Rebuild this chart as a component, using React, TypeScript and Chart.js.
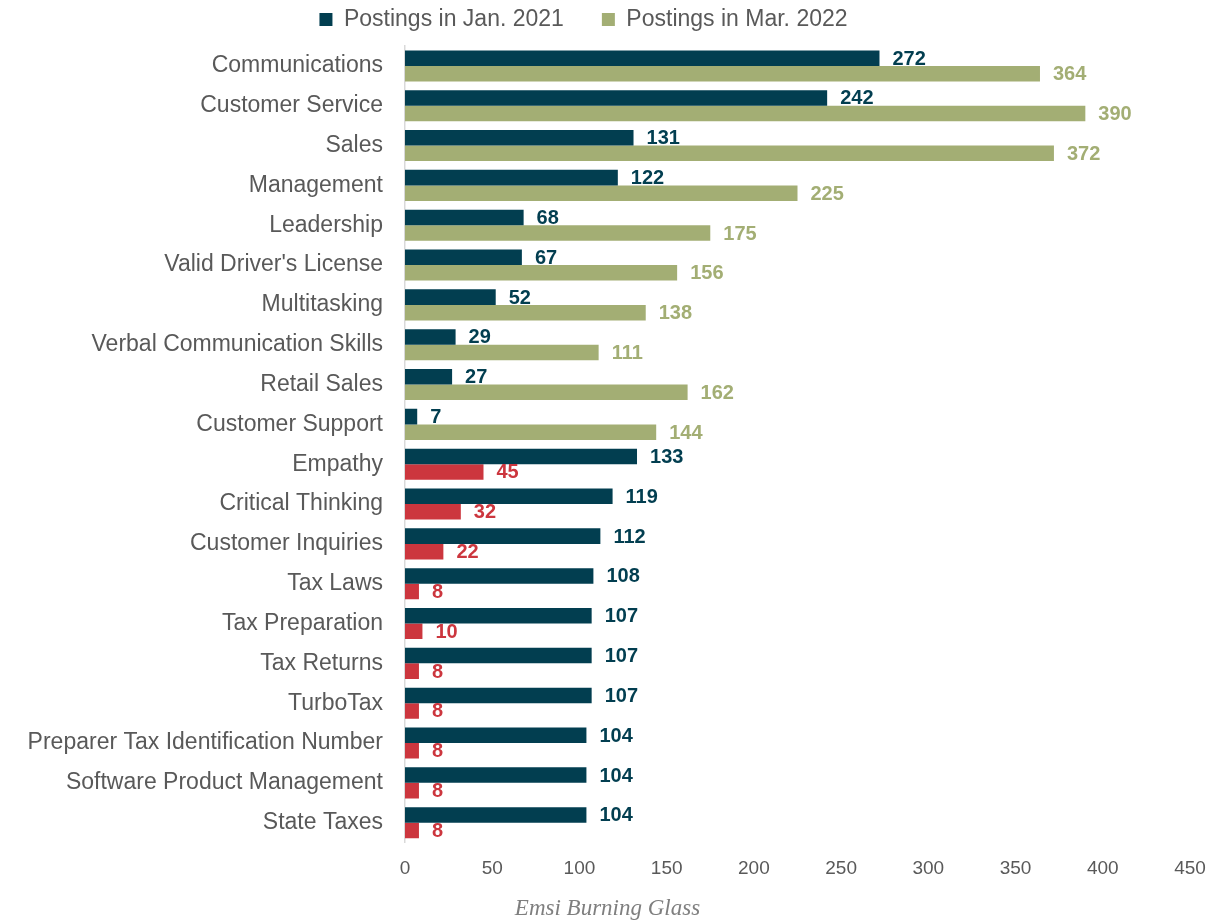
import React, { useEffect, useRef } from "react";
import { Chart, registerables } from "chart.js";

Chart.register(...registerables);

const categories = [
  "Communications",
  "Customer Service",
  "Sales",
  "Management",
  "Leadership",
  "Valid Driver's License",
  "Multitasking",
  "Verbal Communication Skills",
  "Retail Sales",
  "Customer Support",
  "Empathy",
  "Critical Thinking",
  "Customer Inquiries",
  "Tax Laws",
  "Tax Preparation",
  "Tax Returns",
  "TurboTax",
  "Preparer Tax Identification Number",
  "Software Product Management",
  "State Taxes",
];

const postingsJan2021 = [272, 242, 131, 122, 68, 67, 52, 29, 27, 7, 133, 119, 112, 108, 107, 107, 107, 104, 104, 104];
const postingsMar2022 = [364, 390, 372, 225, 175, 156, 138, 111, 162, 144, 45, 32, 22, 8, 10, 8, 8, 8, 8, 8];

const seriesNames = ["Postings in Jan. 2021", "Postings in Mar. 2022"];
const xTicks = [0, 50, 100, 150, 200, 250, 300, 350, 400, 450];
const sourceText = "Emsi Burning Glass";

const DARK = "#023E50";
const GREEN = "#A3AE74";
const RED = "#CC363E";
const TEXT = "#595959";
const FONT = "'Liberation Sans', Arial, sans-serif";

// Mar. 2022 bars are red where postings declined
const marColors = postingsMar2022.map((v, i) => (v < postingsJan2021[i] ? RED : GREEN));

const valueLabels = {
  id: "valueLabels",
  afterDatasetsDraw(chart: any) {
    const ctx = chart.ctx;
    ctx.save();
    ctx.font = "bold 20px " + FONT;
    ctx.textAlign = "left";
    ctx.textBaseline = "middle";
    chart.data.datasets.forEach((ds: any, di: number) => {
      const meta = chart.getDatasetMeta(di);
      meta.data.forEach((el: any, i: number) => {
        const v = ds.data[i];
        ctx.fillStyle = di === 0 ? DARK : marColors[i];
        ctx.fillText(String(v), el.x + 13, el.y + 1);
      });
    });
    ctx.restore();
  },
};

const legendPlace = {
  id: "legendPlace",
  beforeLayout(chart: any) {
    const lg = chart.legend;
    if (lg && !lg.__patched) {
      const orig = lg.fit.bind(lg);
      lg.fit = function () {
        orig();
        this.height = 46;
      };
      lg.__patched = true;
    }
  },
  afterLayout(chart: any) {
    const lg = chart.legend;
    if (lg) {
      lg.top -= 30;
      lg.left -= 24;
      lg.right -= 24;
    }
  },
};

export default function App() {
  const ref = useRef<HTMLCanvasElement | null>(null);

  useEffect(() => {
    document.body.style.margin = "0";
    if (!ref.current) return;
    const chart = new Chart(ref.current, {
      type: "bar",
      data: {
        labels: categories,
        datasets: [
          {
            label: seriesNames[0],
            data: postingsJan2021,
            backgroundColor: DARK,
            barPercentage: 1,
            categoryPercentage: 0.78,
          },
          {
            label: seriesNames[1],
            data: postingsMar2022,
            backgroundColor: marColors,
            barPercentage: 1,
            categoryPercentage: 0.78,
          },
        ],
      },
      options: {
        indexAxis: "y",
        animation: false,
        responsive: false,
        maintainAspectRatio: false,
        layout: { padding: { left: 0, right: 0, top: 0, bottom: 0 } },
        scales: {
          x: {
            min: 0,
            max: 450,
            afterBuildTicks(scale: any) {
              scale.ticks = xTicks.map((v) => ({ value: v }));
            },
            afterFit(scale: any) {
              scale.paddingRight = 25;
            },
            grid: { display: false, drawTicks: false },
            border: { display: false },
            ticks: {
              color: TEXT,
              padding: 15,
              font: { family: FONT, size: 19 },
            },
          },
          y: {
            grid: { display: false, drawTicks: false },
            border: { display: true, color: "#D9D9D9", width: 1.5 },
            afterFit(scale: any) {
              scale.width = 405;
            },
            ticks: {
              color: TEXT,
              padding: 22,
              autoSkip: false,
              font: { family: FONT, size: 23 },
            },
          },
        },
        plugins: {
          legend: {
            position: "top",
            labels: {
              color: TEXT,
              boxWidth: 13,
              boxHeight: 13,
              padding: 38,
              font: { family: FONT, size: 23 },
              generateLabels() {
                return [
                  { text: seriesNames[0], fillStyle: DARK, strokeStyle: DARK, lineWidth: 0, datasetIndex: 0, fontColor: TEXT },
                  { text: seriesNames[1], fillStyle: GREEN, strokeStyle: GREEN, lineWidth: 0, datasetIndex: 1, fontColor: TEXT },
                ] as any;
              },
            },
          },
          title: {
            display: true,
            position: "bottom",
            text: sourceText,
            color: "#7F7F7F",
            padding: { top: 0, bottom: 0 },
            font: { family: "'Liberation Serif', 'Times New Roman', serif", size: 23, style: "italic", weight: "normal" },
          },
          tooltip: { enabled: false },
        },
      },
      plugins: [valueLabels, legendPlace],
    } as any);
    return () => chart.destroy();
  }, []);

  return (
    <div style={{ width: 1215, height: 923 }}>
      <canvas ref={ref} width={1215} height={923} style={{ display: "block" }} />
    </div>
  );
}
